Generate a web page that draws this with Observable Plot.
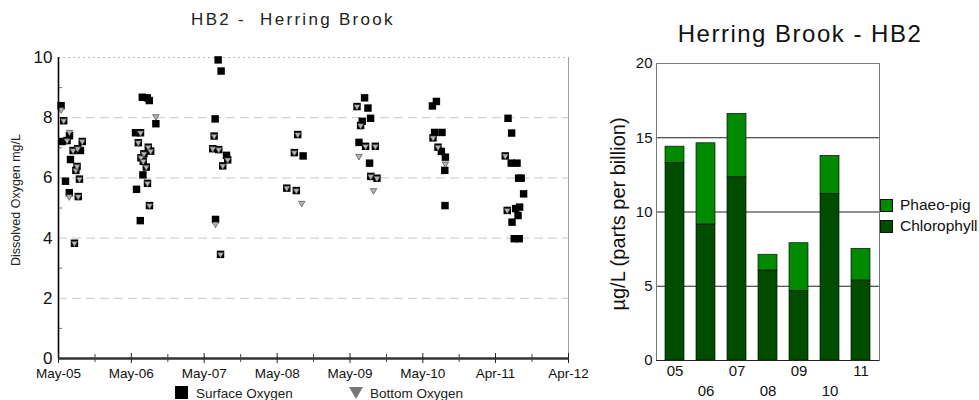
<!DOCTYPE html>
<html><head><meta charset="utf-8">
<script src="https://cdn.jsdelivr.net/npm/d3@7"></script>
<script src="https://cdn.jsdelivr.net/npm/@observablehq/plot@0.6"></script>
<style>
body{margin:0;background:#fff;}
#wrap{position:relative;width:979px;height:400px;overflow:hidden;background:#fff;font-family:"Liberation Sans",Arial,sans-serif;color:#111;}
.abs{position:absolute;white-space:nowrap;}
</style></head><body><div id="wrap"></div>
<script>
// ---------- Left chart data: Dissolved oxygen ----------
const surfaceDates = [
 "2005-05-14","2005-05-27","2005-05-19","2005-06-13","2005-06-25","2005-07-13","2005-06-30","2005-08-05","2005-08-19","2005-08-28","2005-07-27","2005-08-02","2005-06-05","2005-08-14","2005-06-24","2005-08-08","2005-07-20",
 "2006-06-25","2006-07-20","2006-07-30","2006-09-01","2006-05-22","2006-06-16","2006-06-05","2006-07-25","2006-08-06","2006-07-03","2006-06-18","2006-06-30","2006-07-15","2006-06-28","2006-07-21","2006-05-27","2006-07-31","2006-06-15",
 "2007-07-10","2007-07-25","2007-06-25","2007-06-20","2007-06-13","2007-07-13","2007-08-21","2007-08-27","2007-08-02","2007-06-27","2007-07-22",
 "2008-08-12","2008-07-26","2008-09-08","2008-06-18","2008-08-05",
 "2009-07-13","2009-06-05","2009-07-30","2009-08-12","2009-07-01","2009-06-23","2009-06-15","2009-07-18","2009-09-05","2009-08-07","2009-08-13","2009-09-13",
 "2010-07-08","2010-06-18","2010-06-29","2010-08-05","2010-06-21","2010-07-16","2010-08-02","2010-08-22","2010-08-19","2010-08-20",
 "2011-07-02","2011-07-20","2011-06-18","2011-07-18","2011-08-16","2011-08-24","2011-09-06","2011-09-18","2011-06-28","2011-08-09","2011-08-29","2011-07-22","2011-08-21","2011-08-02","2011-08-27"
];
const surfaceDO = [
 8.40,7.90,7.21,7.24,7.40,6.91,6.61,6.97,6.91,7.21,6.25,6.38,5.89,5.96,5.51,5.38,3.83,
 8.68,8.66,8.57,7.80,7.50,7.50,7.17,7.02,6.89,6.80,6.67,6.55,6.36,6.10,5.82,5.62,5.08,4.58,
 9.92,9.55,7.96,7.39,6.97,6.94,6.75,6.60,6.40,4.62,3.46,
 7.44,6.84,6.73,5.66,5.58,
 8.66,8.37,8.32,7.98,7.88,7.74,7.18,7.05,7.05,6.49,6.05,5.99,
 8.54,8.39,7.51,7.51,7.33,7.02,6.88,6.69,6.25,5.08,
 7.98,7.49,6.73,6.49,6.49,5.99,5.99,5.47,4.92,4.98,5.03,4.53,4.75,3.98,3.98
];
const bottomDates = [
 "2005-05-14","2005-05-27","2005-06-13","2005-06-25","2005-07-13","2005-08-05","2005-08-28","2005-07-27","2005-08-02","2005-08-14","2005-06-24","2005-08-08","2005-07-20",
 "2006-09-01","2006-06-16","2006-06-05","2006-07-25","2006-08-06","2006-07-03","2006-06-18","2006-06-30","2006-07-15","2006-07-21","2006-07-31",
 "2007-06-20","2007-06-13","2007-07-13","2007-08-27","2007-08-02","2007-06-27","2007-07-22",
 "2008-08-12","2008-07-26","2008-06-18","2008-08-05","2008-09-01",
 "2009-06-05","2009-06-23","2009-06-15","2009-07-18","2009-09-05","2009-08-13","2009-09-13","2009-08-27",
 "2010-06-21","2010-07-16","2010-08-22",
 "2011-06-18","2011-06-28"
];
const bottomDO = [
 8.27,7.90,7.24,7.52,6.91,6.97,7.21,6.25,6.38,5.96,5.38,5.38,3.83,
 8.04,7.50,7.17,7.02,6.89,6.80,6.67,6.55,6.36,5.82,5.08,
 7.39,6.97,6.94,6.60,6.40,4.47,3.46,
 7.44,6.84,5.66,5.58,5.16,
 8.37,7.74,6.72,7.05,7.05,6.05,5.99,5.58,
 7.33,7.02,6.47,
 6.73,4.92
];
const xTickDates = ["2005-05-01","2006-05-01","2007-05-01","2008-05-01","2009-05-01","2010-05-01","2011-04-30","2012-04-30"];
const xTickLabels = ["May-05","May-06","May-07","May-08","May-09","May-10","Apr-11","Apr-12"];
const xMinorDates = ["2005-10-31","2006-10-31","2007-10-31","2008-10-30","2009-10-31","2010-10-30","2011-10-30"];
const yTicksLeft = [0,2,4,6,8,10];
const yMinorLeft = [1,3,5,7,9];

// ---------- Right chart data: Chlorophyll ----------
const chlYears = ["05","06","07","08","09","10","11"];
const chlorophyll = [13.3,9.16,12.34,6.06,4.69,11.22,5.39];
const phaeoPig = [1.1,5.47,4.27,1.06,3.21,2.56,2.13];
const seriesNames = ["Phaeo-pig","Chlorophyll"];
const seriesColors = ["#008a00","#004d00"];
const yTicksRight = [0,5,10,15,20];

const FONT = "Liberation Sans, Arial, sans-serif";
const wrap = document.getElementById("wrap");

const parse = s => new Date(s + "T00:00:00Z");
const surface = surfaceDates.map((d,i)=>({date: parse(d), value: surfaceDO[i]}));
const bottom = bottomDates.map((d,i)=>({date: parse(d), value: bottomDO[i]}));
const tickD = xTickDates.map(parse);
const minorD = xMinorDates.map(parse);
const labelOf = new Map(tickD.map((d,i)=>[+d, xTickLabels[i]]));

const left = Plot.plot({
  width: 590, height: 400,
  marginLeft: 58, marginRight: 22, marginTop: 57, marginBottom: 42,
  x: {type: "utc", domain: [tickD[0], tickD[tickD.length-1]]},
  y: {domain: [0, 10]},
  style: {fontFamily: FONT, background: "transparent", color: "#111", overflow: "visible"},
  marks: [
    Plot.ruleY([2,4,6,8], {stroke: "#d4d4d4", strokeDasharray: "9,5", strokeWidth: 1.2}),
    Plot.ruleY([10], {stroke: "#bdbdbd", strokeDasharray: "2,3", strokeWidth: 1}),
    Plot.ruleX([tickD[tickD.length-1]], {stroke: "#a0a0a0", strokeWidth: 1}),
    Plot.axisY({ticks: yTicksLeft, tickSize: 0, tickPadding: 6, fontSize: 17, label: null}),
    Plot.axisY({ticks: yMinorLeft, tickSize: -4, text: null, stroke: "#777", label: null}),
    Plot.text(["Dissolved Oxygen mg/L"], {frameAnchor: "left", textAnchor: "middle", rotate: -90, dx: -43, dy: -8, fontSize: 12.5, fill: "#222"}),
    Plot.dot(surface, {x: "date", y: "value", symbol: "square", r: 4.2, fill: "#000"}),
    Plot.dot(bottom, {x: "date", y: "value", symbol: "triangle", rotate: 180, r: 2.4, fill: "#b5b5b5", stroke: "#333", strokeWidth: 0.6}),
    Plot.ruleX([tickD[0]], {stroke: "#000", strokeWidth: 1.6}),
    Plot.ruleY([0], {stroke: "#333", strokeWidth: 2.6}),
    Plot.axisX({ticks: tickD, tickFormat: d => labelOf.get(+d), tickSize: 5, tickPadding: 5, fontSize: 13.5, label: null, stroke: "#222"}),
    Plot.axisX({ticks: tickD, tickSize: -5, text: null, label: null, stroke: "#222"}),
    Plot.axisX({ticks: minorD, tickSize: 4, text: null, label: null, stroke: "#444"}),
    Plot.axisX({ticks: minorD, tickSize: -4, text: null, label: null, stroke: "#444"})
  ]
});
left.style.position = "absolute"; left.style.left = "0px"; left.style.top = "0px";
wrap.appendChild(left);

const chlRows = [];
chlYears.forEach((y,i)=>{ chlRows.push({year: y, series: "Chlorophyll", value: chlorophyll[i]}); });
chlYears.forEach((y,i)=>{ chlRows.push({year: y, series: "Phaeo-pig", value: phaeoPig[i]}); });

const right = Plot.plot({
  width: 389, height: 400,
  marginLeft: 66, marginRight: 100, marginTop: 63, marginBottom: 40,
  x: {type: "band", domain: chlYears, paddingInner: 0.4, paddingOuter: 0.2},
  y: {domain: [0, 20]},
  color: {domain: seriesNames, range: seriesColors},
  style: {fontFamily: FONT, background: "transparent", color: "#111", overflow: "visible"},
  marks: [
    Plot.ruleY([5,10,15], {stroke: "#222", strokeWidth: 1}),
    Plot.barY(chlRows, Plot.stackY({x: "year", y: "value", fill: "series", stroke: "#111", strokeWidth: 0.7, order: null})),
    Plot.frame({stroke: "#7a7a7a", strokeWidth: 1}),
    Plot.ruleY([0], {stroke: "#222", strokeWidth: 1.2}),
    Plot.axisY({ticks: yTicksRight, tickSize: 0, tickPadding: 4, fontSize: 15, label: null}),
    Plot.text(["µg/L (parts per billion)"], {frameAnchor: "left", textAnchor: "middle", rotate: -90, dx: -38, dy: 2, fontSize: 20, fill: "#111"}),
    Plot.axisX({ticks: ["05","07","09","11"], tickSize: 0, tickPadding: 5, fontSize: 15, label: null}),
    Plot.axisX({ticks: ["06","08","10"], tickSize: 0, tickPadding: 25, fontSize: 15, label: null})
  ]
});
right.style.position = "absolute"; right.style.left = "590px"; right.style.top = "0px";
wrap.appendChild(right);

function add(html, css){ const d=document.createElement("div"); d.className="abs"; d.innerHTML=html; Object.assign(d.style, css); wrap.appendChild(d); return d; }
// titles
add("HB2 -&nbsp; Herring Brook", {left:"293px", top:"20px", transform:"translate(-50%,-50%)", fontSize:"17px", letterSpacing:"2.3px", color:"#222"});
add("Herring Brook - HB2", {left:"800px", top:"34px", transform:"translate(-50%,-50%)", fontSize:"24px", letterSpacing:"1.5px", color:"#111"});
// left legend
add("", {left:"175px", top:"386px", width:"13px", height:"13px", background:"#000"});
add("Surface Oxygen", {left:"196px", top:"393px", transform:"translateY(-50%)", fontSize:"13.5px", color:"#222"});
add("", {left:"349px", top:"387px", width:"0", height:"0", borderLeft:"7px solid transparent", borderRight:"7px solid transparent", borderTop:"12px solid #777"});
add("Bottom Oxygen", {left:"370px", top:"393px", transform:"translateY(-50%)", fontSize:"13.5px", color:"#222"});
// right legend
add("", {left:"880px", top:"199px", width:"11px", height:"11px", background:seriesColors[0], border:"1px solid #111"});
add(seriesNames[0], {left:"900px", top:"205px", transform:"translateY(-50%)", fontSize:"15.5px", color:"#111"});
add("", {left:"880px", top:"220px", width:"11px", height:"11px", background:seriesColors[1], border:"1px solid #111"});
add(seriesNames[1], {left:"900px", top:"226px", transform:"translateY(-50%)", fontSize:"15.5px", color:"#111"});
</script></body></html>
